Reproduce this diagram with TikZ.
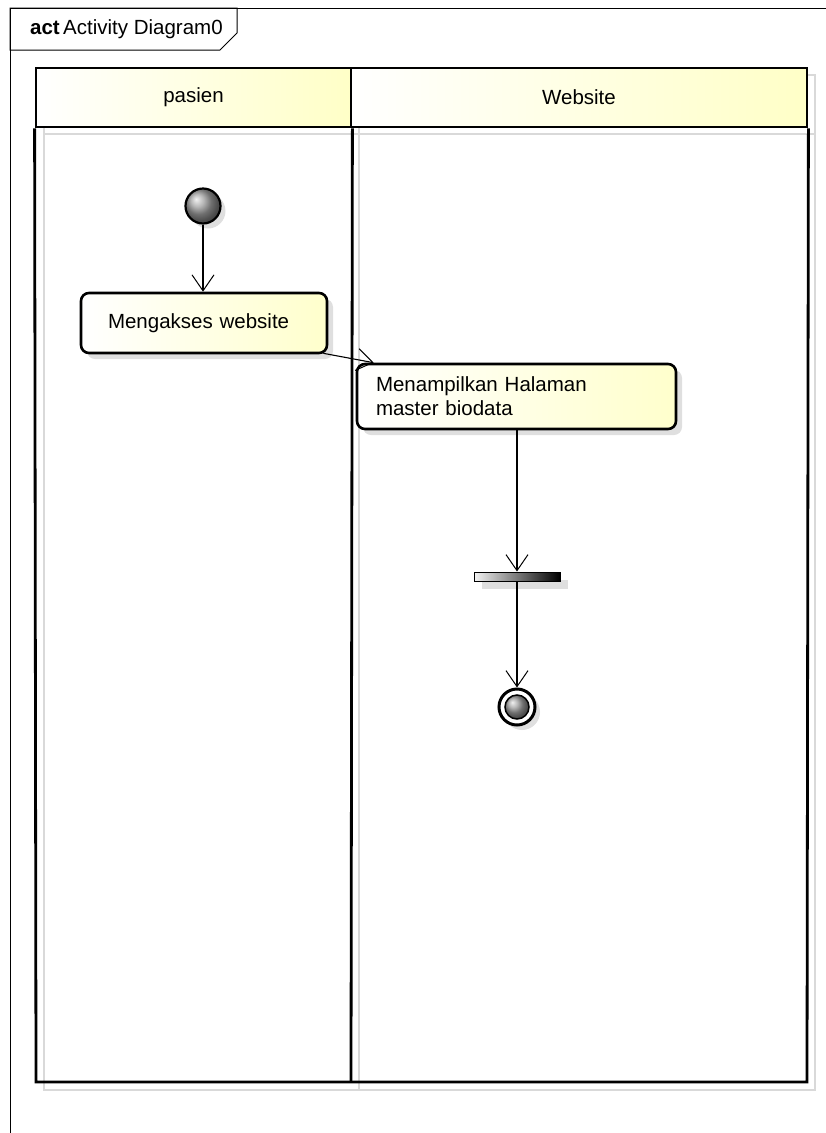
\documentclass[tikz,border=0pt]{standalone}
\usepackage{fontspec}
\setmainfont{Liberation Sans}
\usetikzlibrary{calc}
\usetikzlibrary{arrows.meta}
\usetikzlibrary{shadows}

\begin{document}
\begin{tikzpicture}[x=1pt, y=-1pt,
		font=\fontsize{20.5}{24}\selectfont,
		flow/.style={-{Straight Barb[length=16pt,width=22pt,line width=1pt]}, line width=1.1pt},
		lanehead/.style={draw, line width=2.8pt, minimum height=59pt, left color=white, right color=yellow!22},
		action/.style={draw, line width=2.6pt, rounded corners=8pt, left color=white, right color=yellow!20, align=left,
			drop shadow={shadow xshift=6pt, shadow yshift=-6pt, opacity=.25, fill=gray}},
		lanegray/.style={gray!30, line width=2pt}]
			\useasboundingbox (0,0) rectangle (826,1133);
			\draw[line width=1pt] (10,1133) -- (10,8) -- (826,8);
			\draw[line width=1pt] (10,8) -- (237,8) -- (237,33) -- (220,50) -- (10,50) -- cycle;
			\node[anchor=west, inner sep=0pt] (title) at (30,29) {\textbf{act}\,Activity Diagram0};
			\draw[lanegray] (44,75) rectangle (815,1090);
			\draw[lanegray] (359,75) -- (359,1090);
			\draw[lanegray] (44,134) -- (815,134);
			\node[lanehead, minimum width=315pt] (pasien) at (193.5,97.5) {pasien};
			\node[lanehead, minimum width=456pt] (website) at (579,97.5) {Website};
			\draw[line width=2.8pt] (pasien.south west) -- (36,1082) -- (807,1082) -- (website.south east);
			\draw[line width=2.8pt] (pasien.south east) -- (351,1082);
			\node[circle, draw, line width=2.2pt, minimum size=35pt, ball color=gray!75,
				drop shadow={shadow xshift=5pt, shadow yshift=-5pt, opacity=.25, fill=gray}] (start) at (203,206) {};
			\node[action, text width=192pt, inner xsep=27pt, minimum height=60pt] (act1) at (204,323) {Mengakses website};
			\node[action, text width=281pt, inner xsep=19pt, minimum height=65pt] (act2) at (516.5,396.5) {Menampilkan Halaman\\master biodata};
			\node[draw, line width=1pt, minimum width=86pt, minimum height=9pt, inner sep=0pt, left color=gray!10, right color=black,
				drop shadow={shadow xshift=8pt, shadow yshift=-8pt, opacity=.25, fill=gray}] (fork) at (517,576.5) {};
			\node[circle, draw, line width=3pt, minimum size=36pt, fill=white,
				drop shadow={shadow xshift=5pt, shadow yshift=-5pt, opacity=.25, fill=gray}] (final) at (517,707) {};
			\node[circle, draw, line width=1.5pt, minimum size=24pt, ball color=gray!75] (finalin) at (final) {};
			\draw[flow] (start) -- (act1.north -| start);
			\draw[flow] ($(act1.south east)+(-5,-1)$) -- ($(act2.north west)+(18,0)$);
			\draw[flow] (act2.south -| fork) -- (fork.north);
			\draw[flow] (fork.south) -- (final.north);
		\end{tikzpicture}
\end{document}
